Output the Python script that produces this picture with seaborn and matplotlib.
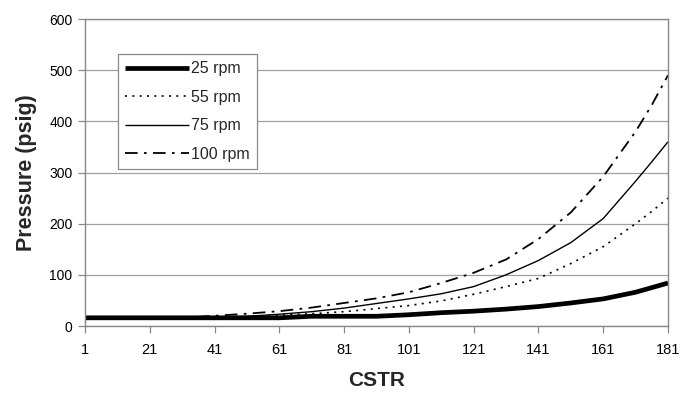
import matplotlib
matplotlib.use("Agg")
import matplotlib.pyplot as plt
import seaborn as sns
import pandas as pd

cstr = [1, 11, 21, 31, 41, 51, 61, 71, 81, 91, 101, 111, 121, 131, 141, 151, 161, 171, 176, 181]
p25 = [16, 16, 16, 16, 16, 16, 16, 19, 19, 19, 22, 26, 29, 33, 38, 45, 53, 66, 75, 84]
p55 = [16, 16, 16, 16, 16, 18, 21, 24, 28, 34, 40, 49, 62, 77, 93, 122, 155, 200, 224, 250]
p75 = [16, 16, 16, 16, 17, 19, 23, 28, 35, 44, 53, 63, 77, 100, 128, 163, 210, 283, 321, 360]
p100 = [16, 16, 16, 16, 20, 24, 29, 36, 45, 54, 66, 84, 104, 130, 170, 222, 292, 380, 432, 490]
labels = ["25 rpm", "55 rpm", "75 rpm", "100 rpm"]
xticks = [1, 21, 41, 61, 81, 101, 121, 141, 161, 181]
yticks = [0, 100, 200, 300, 400, 500, 600]

sns.set_theme(style="white")
plt.rcParams['font.family'] = ['Liberation Sans', 'DejaVu Sans']

fig = plt.figure(figsize=(6.81, 3.94), dpi=100)
ax = fig.add_axes([85/681, 1-326/394, 583/681, 307/394])

series = [p25, p55, p75, p100]
styles = [
    dict(lw=3.4, ls='-'),
    dict(lw=1.2, ls=(0, (1.2, 3.2))),
    dict(lw=1.0, ls='-'),
    dict(lw=1.3, ls=(0, (7, 3.5, 1.5, 3.5))),
]
for lab, vals, st in zip(labels, series, styles):
    df = pd.DataFrame({"CSTR": cstr, "Pressure": vals})
    sns.lineplot(data=df, x="CSTR", y="Pressure", ax=ax, color='black',
                 label=lab, linewidth=st['lw'], linestyle=st['ls'],
                 solid_capstyle='butt', dash_capstyle='butt')

ax.set_xlim(1, 181)
ax.set_ylim(0, 600)
ax.set_xticks(xticks)
ax.set_yticks(yticks)
ax.set_xticklabels([str(t) for t in xticks], fontsize=10.5)
ax.set_yticklabels([str(t) for t in yticks], fontsize=10)
ax.yaxis.grid(True, color='#a0a0a0', linewidth=0.9)
ax.xaxis.grid(False)
for s in ax.spines.values():
    s.set_color('#888888')
    s.set_linewidth(1.0)
ax.tick_params(axis='both', which='major', direction='out', length=5, width=0.9,
               color='#888888', labelcolor='black')
ax.tick_params(axis='x', pad=7)
ax.tick_params(axis='y', pad=4, left=True)
ax.tick_params(axis='x', bottom=True)

ax.set_xlabel("CSTR", fontsize=15, fontweight='bold', labelpad=10)
ax.set_ylabel("Pressure (psig)", fontsize=15.5, fontweight='bold', labelpad=9)

leg = ax.legend(loc='upper left', bbox_to_anchor=(0.0566, 0.886), borderaxespad=0,
                fontsize=11.5, frameon=True, fancybox=False, handlelength=4.0,
                handletextpad=0.15, labelspacing=0.85, borderpad=0.45)
leg.get_frame().set_edgecolor('#888888')
leg.get_frame().set_linewidth(0.9)
leg.get_frame().set_facecolor('white')
leg.get_frame().set_alpha(1)

fig.savefig("out.png", dpi=100)
